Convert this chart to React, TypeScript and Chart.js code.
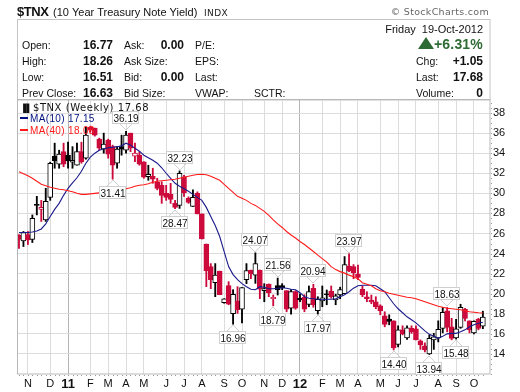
import React, { useEffect, useRef } from "react";
import { Chart, registerables } from "chart.js";

Chart.register(...registerables);

const opens = [25.85,25.25,25.9,25.4,28.9,28.4,27.35,29.6,33.7,32.9,34.15,33.8,33.1,32.8,34.15,33.5,36.6,36.5,35.4,34.4,35.3,34.65,33,34.65,34.3,36,33.7,33.8,33.15,31.65,31.7,31.1,30.8,30,29.9,29,28.8,31.65,29.5,28.7,30,27.95,24.95,22.7,21.1,22.25,19.5,18.95,19.95,18.4,18.45,21.4,22.35,21.85,22.36,20.3,20.97,19.65,20.8,20.8,20.3,18.55,20.2,19.55,19.64,18.94,20.54,18.3,19.27,20,20.27,19.37,19.87,20,22.76,22.7,21.96,20.44,19.7,19.37,19.2,18.78,17.8,17.48,17.3,14.95,16.4,15.6,16.55,16.5,15.3,14.8,14,15.4,15.6,16.55,18.3,16.7,15.6,16.65,18.45,17.3,16.1,17.45,16.77];
const closes = [25.4,26.1,25.35,27.5,28.8,28.6,29.2,33,33.25,33.9,32.9,33.25,33.3,34.15,33.15,35.8,36.3,35.8,34.5,34.9,33.9,32.8,34.4,34.4,35.8,34.5,34,32.9,31.6,31.9,31.4,30.5,29.8,29.6,29.4,28.6,32,30.05,29.1,29.6,27.95,25.45,22.3,21.4,21.85,19.9,19.1,20.8,18,19.3,20.6,22.3,22,23,20.44,20.5,20.1,19.5,20.4,20.6,18.45,20.2,18.55,19.37,18.45,20.2,18.88,19.44,19.6,19.9,19.7,19.8,20.4,22.9,22.26,22.1,21.63,19.87,19.5,19.17,18.7,18.28,16.95,17.25,14.6,16.4,16,16.6,16.2,15.4,14.9,14.4,15.55,15.7,16.45,18.15,16.65,15.55,16.5,18.65,17.55,16.4,17.25,16.55,17.68];
const highs = [25.9,26.2,26.2,27.85,29.7,29.3,30.5,33.1,35,34.3,35,35.1,34.65,35,35.1,36.6,36.7,36.5,35.5,36,35.4,34.8,34.65,35.8,36.19,36,35,34.15,33.15,32.8,32.5,31.5,31.15,30.8,31,29.3,32.23,31.8,29.65,30.35,30.15,27.95,24.95,23,23,22.25,19.5,21.2,20.4,20.7,20.6,23,22.35,24.07,22.36,21,20.97,19.87,21.56,21,20.3,20.4,20.3,20,19.9,20.77,20.94,19.7,20.77,20.37,20.77,19.95,20.65,23.7,23.97,22.9,22.86,20.77,20.2,19.87,19.7,18.9,18.2,17.9,17.3,16.8,16.8,16.8,16.8,16.8,15.4,15.1,15.9,16.05,17.3,18.63,18.63,17.55,17.45,18.95,18.55,17.3,17.3,17.55,18.26];
const lows = [24.5,24.7,24.9,25.1,27.85,27.2,27.2,29.3,32.5,32.5,32.65,32.5,32.5,32.8,33,33.4,36.1,35.7,34.3,34,33.5,31.41,32.5,33.8,34,34.15,33.15,32.8,31.5,31.3,31,30.35,29,29.3,29,28.47,28.5,29.7,29,28.7,27.95,25.45,20.7,20.5,19.7,19.9,19.05,18.9,16.96,18.05,17.1,21,21.5,21.03,19.5,19.2,19.7,18.79,19.87,20.4,18.2,17.95,18.45,19.2,18.2,18.7,18.65,17.97,18.7,18.9,19.55,18.9,19.5,20,22.2,21.5,21.4,19.7,19.2,19,18.5,17.9,16.7,16.9,14.4,14.7,15.9,15.45,16.05,15.4,14.45,14.2,13.94,14.45,15.2,16.1,16.2,15.4,15.48,16.55,17.3,16.1,16,16.4,16.51];
const candleKinds = "RWRWBPWWBWRBWWRWRRRWRRWBWRPRRWRRRRRRWRRWRRRRWRWRWRWWRWRWRPBBRWRBRWRWWBRWWWRRRRRRRRRBRWRWRRRRWWWWRRWWRRWRW".split("");
const ma10 = [26.1,26.1,26.1,26.15,26.25,26.45,26.95,27.7,28.4,29.0,29.8,30.5,31.05,31.55,32.2,33.0,33.6,34.0,34.3,34.45,34.55,34.6,34.65,34.75,35.0,34.8,34.5,34.2,33.8,33.55,33.3,33.0,32.55,32.0,31.5,31.0,30.7,30.45,30.2,29.9,29.6,29.3,28.6,27.7,26.8,25.7,24.2,22.7,21.9,21.4,21.0,20.7,20.45,20.4,20.7,20.65,20.5,20.5,20.55,20.6,20.55,20.45,20.4,20.1,19.7,19.55,19.5,19.45,19.4,19.45,19.45,19.5,19.7,19.9,20.2,20.55,20.8,20.85,20.85,20.85,20.8,20.5,20.2,19.6,19.0,18.5,18.1,17.7,17.4,17.1,16.7,16.3,15.95,15.75,15.55,15.75,16.0,16.05,16.05,16.2,16.4,16.7,16.9,17.05,17.15];
const ma40 = [32.16,31.95,31.75,31.5,31.2,30.9,30.75,30.6,30.5,30.4,30.35,30.25,30.15,30.0,29.9,29.9,29.95,30.0,30.05,30.1,30.15,30.2,30.25,30.35,30.45,30.55,30.7,30.8,30.85,30.95,31.1,31.2,31.25,31.3,31.35,31.4,31.5,31.6,31.7,31.8,31.88,31.9,31.85,31.7,31.5,31.3,30.9,30.5,30.1,29.7,29.5,29.3,29.0,28.8,28.5,28.2,27.8,27.35,26.95,26.6,26.2,25.85,25.55,25.2,24.9,24.55,24.2,23.85,23.5,23.15,22.7,22.4,22.2,22.05,21.85,21.7,21.5,21.1,20.95,20.8,20.5,20.3,20.2,20.05,19.95,19.85,19.75,19.65,19.6,19.5,19.35,19.2,19.05,18.9,18.75,18.65,18.55,18.5,18.45,18.4,18.3,18.2,18.15,18.1,18.08];

const tickWeeks = [2,7,11,16,20,24,28,33,37,41,46,50,55,59,63,68,72,76,81,85,89,94,98,102];
const tickLabels = ["N","D","11","F","M","A","M","J","J","A","S","O","N","D","12","F","M","A","M","J","J","A","S","O"];
const calloutWeeks = [24,21,36,35,53,48,58,57,66,67,74,84,92,96,98];
const calloutTexts = ["36.19","31.41","32.23","28.47","24.07","16.96","21.56","18.79","20.94","17.97","23.97","14.40","13.94","18.63","15.48"];
const calloutAbove = [true,false,true,false,true,false,true,false,true,false,true,false,false,true,false];
const quoteLeft = [["Open:","16.77","Ask:","0.00","P/E:"],["High:","18.26","Ask Size:","","EPS:"],["Low:","16.51","Bid:","0.00","Last:"],["Prev Close:","16.63","Bid Size:","","VWAP:"]];
const quoteRight = [["Chg:","+1.05"],["Last:","17.68"],["Volume:","0"]];

const RED = "#cc0a3c";
const SANS = '"Liberation Sans", Arial, sans-serif';
const MONO = '"DejaVu Sans", sans-serif';

const text = (ctx: any, s: string, x: number, y: number, font: string, color = "#111", align = "left", spacing = "0px") => {
  ctx.font = font;
  ctx.fillStyle = color;
  ctx.textAlign = align;
  ctx.textBaseline = "alphabetic";
  ctx.letterSpacing = spacing;
  ctx.fillText(s, x, y);
  ctx.letterSpacing = "0px";
};

const headerPlugin = {
  id: "header",
  beforeDraw(chart: any) {
    const { ctx } = chart;
    ctx.save();
    ctx.fillStyle = "#fff";
    ctx.fillRect(0, 0, 520, 392);
    text(ctx, "$TNX", 17, 16, `bold 13px ${SANS}`, "#111", "left", "-0.4px");
    text(ctx, "(10 Year Treasury Note Yield)", 53, 16, `11px ${SANS}`);
    text(ctx, "INDX", 204, 16, `9px ${MONO}`, "#222", "left", "0.4px");
    text(ctx, "© StockCharts.com", 489, 15, `9.5px ${MONO}`, "#666", "right", "0.3px");
    ctx.strokeStyle = "#c4c4c4";
    ctx.lineWidth = 1;
    ctx.strokeRect(17.5, 19.5, 472.5, 80.5);
    const rows = [49, 65, 81, 97];
    quoteLeft.forEach((r, i) => {
      text(ctx, r[0], 22, rows[i], `10.5px ${SANS}`);
      text(ctx, r[1], 113, rows[i], `bold 12px ${SANS}`, "#111", "right");
      text(ctx, r[2], 124, rows[i], `10.5px ${SANS}`);
      if (r[3]) text(ctx, r[3], 184, rows[i], `bold 12px ${SANS}`, "#111", "right");
      text(ctx, r[4], 195, rows[i], `10.5px ${SANS}`);
    });
    text(ctx, "SCTR:", 254, 97, `10.5px ${SANS}`);
    text(ctx, "Friday  19-Oct-2012", 483, 33, `11px ${SANS}`, "#111", "right");
    text(ctx, "+6.31%", 483, 49, `bold 14px ${SANS}`, "#2e6b34", "right", "0.2px");
    ctx.fillStyle = "#2e6b34";
    ctx.beginPath();
    ctx.moveTo(418, 49);
    ctx.lineTo(434, 49);
    ctx.lineTo(426, 37);
    ctx.closePath();
    ctx.fill();
    quoteRight.forEach((r, i) => {
      text(ctx, r[0], 416, rows[i + 1], `10.5px ${SANS}`);
      text(ctx, r[1], 483, rows[i + 1], `bold 12px ${SANS}`, "#111", "right");
    });
    ctx.restore();
  },
  afterDraw(chart: any) {
    const { ctx, scales, chartArea } = chart;
    const { x: xs, y: ys } = scales;
    ctx.save();
    // axes frame and weekly dotted marks
    ctx.strokeStyle = "#b8b8b8";
    ctx.lineWidth = 1;
    ctx.strokeRect(17.5, chartArea.top - 0.5, 472.5, chartArea.bottom - chartArea.top + 0.5);
    ctx.fillStyle = "#999";
    opens.forEach((_, i) => ctx.fillRect(Math.round(xs.getPixelForValue(i)), chartArea.bottom + 1, 1, 1));
    for (let v = 12; v <= 39; v += 0.5) ctx.fillRect(chartArea.right + 1, Math.round(ys.getPixelForValue(v)), 1, 1);
    // legend
    ctx.fillStyle = "#111";
    text(ctx, "\u2590\u258C", 20, 111, `8px ${MONO}`);
    text(ctx, "$TNX (Weekly) 17.68", 33, 111, `10px ${MONO}`, "#111", "left", "0.55px");
    ctx.fillStyle = "#00107f";
    ctx.fillRect(20, 117, 8, 2);
    text(ctx, "MA(10) 17.15", 30, 122, `10px ${SANS}`, "#00107f", "left", "0.35px");
    ctx.fillStyle = "#ff1a1a";
    ctx.fillRect(20, 129, 8, 2);
    text(ctx, "MA(40) 18.08", 30, 134, `10px ${SANS}`, "#ff1a1a", "left", "0.35px");
    // callouts
    calloutWeeks.forEach((w, i) => {
      const cx = Math.round(xs.getPixelForValue(w));
      const above = calloutAbove[i];
      const tip = Math.round(ys.getPixelForValue(above ? highs[w] : lows[w]));
      const tipY = above ? tip - 1 : tip + 1;
      const bx = above ? tipY - 6 - 13 : tipY + 6;
      const by = above ? tipY - 6 : tipY + 6;
      ctx.beginPath();
      ctx.moveTo(cx - 6, by);
      ctx.lineTo(cx, tipY);
      ctx.lineTo(cx + 6, by);
      ctx.strokeStyle = "#cfcfcf";
      ctx.lineWidth = 1;
      ctx.stroke();
      ctx.fillStyle = "#fff";
      ctx.fillRect(cx - 14, bx, 27, 13);
      ctx.strokeStyle = "#cfcfcf";
      ctx.strokeRect(cx - 13.5, bx + 0.5, 26, 12);
      text(ctx, calloutTexts[i], cx, bx + 10.5, `10px ${SANS}`, "#111", "center");
    });
    ctx.restore();
  },
};

export default function App() {
  const ref = useRef<HTMLCanvasElement>(null);
  useEffect(() => {
    document.body.style.margin = "0";
    const weeks = opens.map((_, i) => i);
    const chart = new Chart(ref.current!, {
      type: "bar",
      data: {
        datasets: [
          {
            type: "line",
            label: "MA(40)",
            data: weeks.map((x) => ({ x, y: ma40[x] })),
            borderColor: "#ff1a1a",
            borderWidth: 1.1,
            pointRadius: 0,
            tension: 0,
            order: 1,
          },
          {
            type: "line",
            label: "MA(10)",
            data: weeks.map((x) => ({ x, y: ma10[x] })),
            borderColor: "#1a1a8c",
            borderWidth: 1.1,
            pointRadius: 0,
            tension: 0,
            order: 2,
          },
          {
            type: "bar",
            label: "Body",
            data: weeks.map((x) => ({ x, y: [opens[x], closes[x]] })),
            backgroundColor: candleKinds.map((k) => (k === "R" ? RED : k === "B" ? "#000" : "#fff")),
            borderColor: candleKinds.map((k) => (k === "R" ? RED : k === "P" ? RED : "#000")),
            borderWidth: 1,
            borderSkipped: false,
            barThickness: 5,
            grouped: false,
            order: 3,
          },
          {
            type: "bar",
            label: "Range",
            data: weeks.map((x) => ({ x, y: [lows[x], highs[x]] })),
            backgroundColor: candleKinds.map((k) => (k === "R" || k === "P" ? RED : "#000")),
            barThickness: 1.2,
            grouped: false,
            order: 4,
          },
        ],
      } as any,
      options: {
        animation: false,
        responsive: false,
        layout: { padding: { left: 18, top: 100, right: 0, bottom: 0 } },
        plugins: { legend: { display: false }, tooltip: { enabled: false } },
        scales: {
          x: {
            type: "linear",
            offset: false,
            min: -0.22,
            max: 105.6,
            afterFit: (s: any) => { s.height = 18; s.paddingLeft = 0; s.paddingRight = 0; },
            afterBuildTicks: (s: any) => { s.ticks = tickWeeks.map((value) => ({ value })); },
            border: { display: false },
            grid: {
              offset: false,
              color: (c: any) => (c.tick && (c.tick.value === 11 || c.tick.value === 63) ? "#b4b4b4" : "#dcdcdc"),
              drawTicks: false,
            },
            ticks: {
              autoSkip: false,
              maxRotation: 0,
              padding: 3,
              color: "#111",
              font: (c: any) => {
                const i = tickWeeks.indexOf(c.tick?.value);
                const big = tickLabels[i] === "11" || tickLabels[i] === "12";
                return { family: "Liberation Sans", size: big ? 13 : 11, weight: big ? "bold" : "normal" };
              },
              callback: (v: any) => tickLabels[tickWeeks.indexOf(v)] ?? "",
            },
          },
          y: {
            type: "linear",
            position: "right",
            min: 12,
            max: 39.3,
            afterFit: (s: any) => { s.width = 30; s.paddingTop = 0; s.paddingBottom = 0; },
            afterBuildTicks: (s: any) => { s.ticks = s.ticks.filter((t: any) => t.value >= 14 && t.value % 2 === 0); },
            border: { display: false },
            grid: { color: "#dcdcdc", drawTicks: false },
            ticks: {
              stepSize: 2,
              padding: 3,
              color: "#111",
              font: { family: "Liberation Sans", size: 11 },
            },
          },
        },
      },
      plugins: [headerPlugin],
    } as any);
    return () => chart.destroy();
  }, []);
  return <canvas ref={ref} width={520} height={392} style={{ display: "block" }} />;
}
